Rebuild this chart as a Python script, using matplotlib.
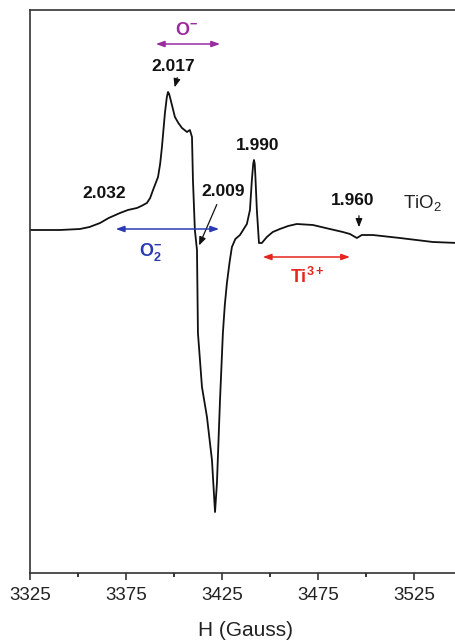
import matplotlib
matplotlib.use('Agg')
import matplotlib.pyplot as plt

plt.rcParams['font.family'] = ['Liberation Sans', 'DejaVu Sans']
plt.rcParams['mathtext.fontset'] = 'custom'
plt.rcParams['mathtext.rm'] = 'Liberation Sans'
plt.rcParams['mathtext.bf'] = 'Liberation Sans:bold'

# EPR spectrum of TiO2 (field in Gauss, intensity arb.)
field = [3325, 3340.6, 3351, 3356, 3361.5, 3366, 3371.9, 3376, 3380.7, 3383,
         3385.9, 3387.6, 3389.1, 3390.5, 3391.7, 3392.8,
         3393.75, 3395.3, 3396.3, 3396.9, 3397.5, 3398.3, 3400.5, 3402.3, 3404.2, 3406.8,
         3408.3, 3409.4, 3409.9, 3410.9, 3412, 3412.5, 3414.6, 3417.2, 3419.8,
         3421.4, 3422.4, 3424, 3425.5, 3426.5, 3427.6, 3429, 3430.2, 3432, 3434.4, 3438, 3439.6,
         3440.6, 3441.3, 3441.7, 3442.1, 3442.4, 3443.2, 3444.3, 3445.8, 3448.4,
         3451.5, 3455.2, 3459.5, 3464, 3472.4, 3481.25, 3488, 3491.7, 3495.3, 3497.9, 3503.6,
         3517.7, 3534.9, 3548]
intensity = [0, 0, 1, 3, 7, 12, 17, 20, 22, 24,
             27, 32, 40, 47, 53, 66,
             83, 117, 133, 138, 136, 130, 113, 107, 102, 98,
             100, 93, 50, 0, -20, -103, -157, -187, -230,
             -282, -253, -170, -103, -75, -53, -32, -17, -9, -5, 6, 20,
             50, 66, 70, 66, 55, 20, -13, -13, -7,
             -2, 1, 4, 6, 5, 1, -2, -4, -8, -5, -5,
             -8, -12, -13]

x_ticks = [3325, 3375, 3425, 3475, 3525]

fig = plt.figure(figsize=(4.56, 6.41), dpi=100)
ax = fig.add_axes([0.0658, 0.1061, 0.947, 0.8783])
ax.plot(field, intensity, color='#111111', lw=1.3)

ax.set_xlim(3325, 3550)
ax.set_ylim(-343, 220)
ax.set_xticks(x_ticks)
ax.set_xticks([3350, 3400, 3450, 3500], minor=True)
ax.set_yticks([])
ax.tick_params(axis='x', which='major', length=5, width=1.1, labelsize=13.5,
               pad=5, colors='#222222')
ax.tick_params(axis='x', which='minor', length=3, width=1.1)
for s in ax.spines.values():
    s.set_linewidth(1.2)
    s.set_color('#333333')
ax.set_xlabel('H (Gauss)', fontsize=15, labelpad=12, color='#222222')

# g-value labels
bold = dict(fontsize=12.5, fontweight='bold', ha='center', va='center', color='#111111')
arr = dict(arrowstyle='-|>,head_length=0.5,head_width=0.2', color='#111111', lw=0.9)
ax.text(3399.5, 163, '2.017', **bold)
ax.annotate('', xy=(3400, 140), xytext=(3402.1, 155), arrowprops=arr)
ax.text(3363.5, 36, '2.032', **bold)
ax.text(3425.5, 38, '2.009', **bold)
ax.annotate('', xy=(3412.5, -18), xytext=(3422.9, 28), arrowprops=arr)
ax.text(3443.75, 84, '1.990', **bold)
ax.text(3493.2, 29, '1.960', **bold)
ax.annotate('', xy=(3496.4, 0), xytext=(3496.4, 17), arrowprops=arr)
ax.text(3519.3, 26, r'TiO$_2$', fontsize=13.5, ha='left', va='center', color='#222222')

# species ranges
purple = '#9a2aa0'
blue = '#2a3ab2'
red = '#e5261f'
dbl = '<|-|>,head_length=0.5,head_width=0.18'
ax.annotate('', xy=(3389.1, 186), xytext=(3425.5, 186),
            arrowprops=dict(arrowstyle=dbl, color=purple, lw=1.1))
ax.text(3406.8, 199, r'$\mathbf{O^{-}}$', fontsize=13, ha='center', va='center', color=purple)
ax.annotate('', xy=(3368.2, 1), xytext=(3425, 1),
            arrowprops=dict(arrowstyle=dbl, color=blue, lw=1.1))
ax.text(3388, -22, r'$\mathbf{O_2^{-}}$', fontsize=13, ha='center', va='center', color=blue)
ax.annotate('', xy=(3444.8, -27), xytext=(3493.2, -27),
            arrowprops=dict(arrowstyle=dbl, color=red, lw=1.1))
ax.text(3469.3, -47, r'$\mathbf{Ti^{3+}}$', fontsize=13, ha='center', va='center', color=red)

fig.savefig('out.png', dpi=100)
